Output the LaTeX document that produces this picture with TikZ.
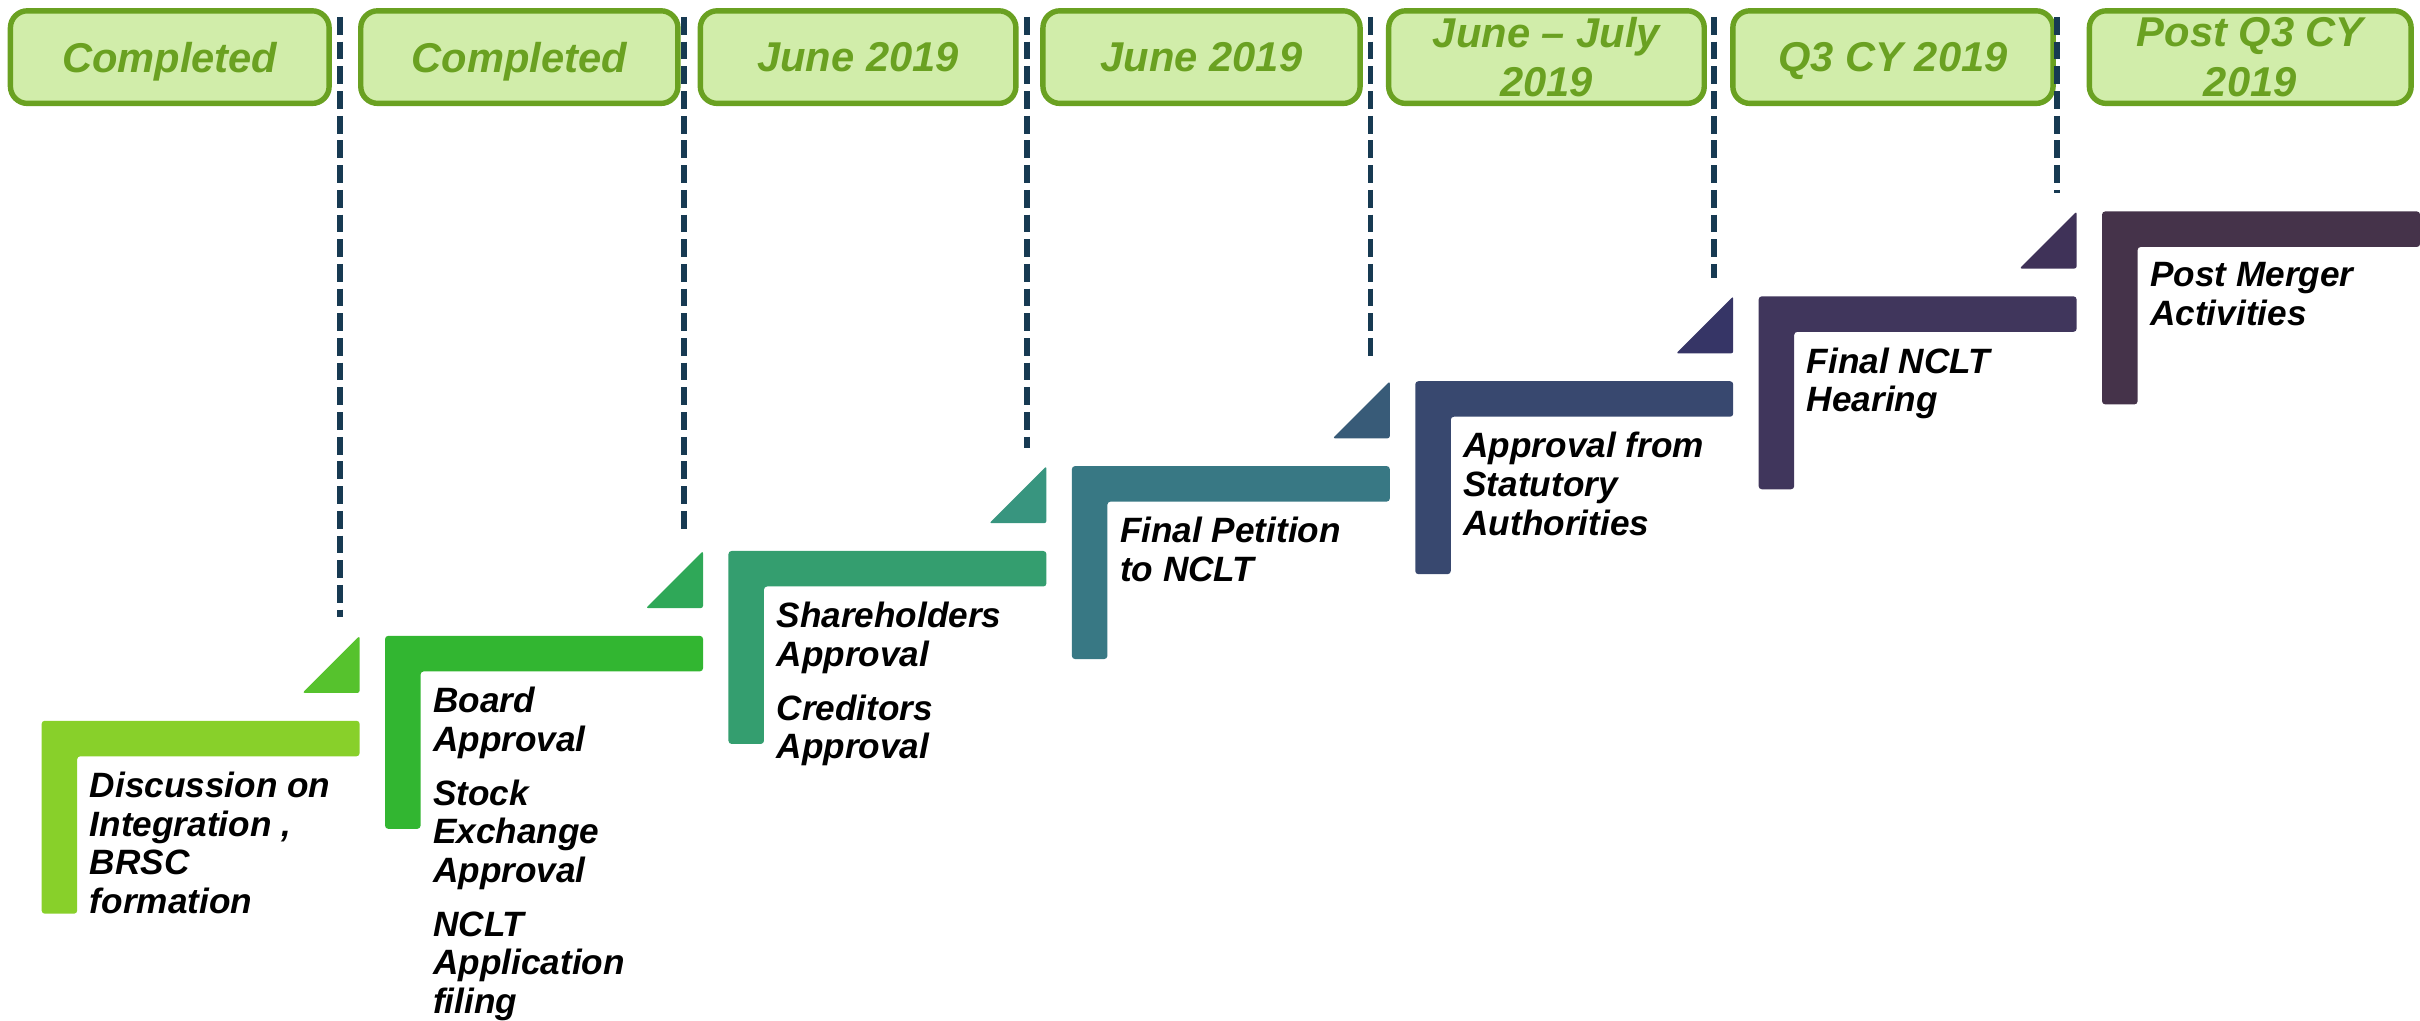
\documentclass[tikz,border=0pt]{standalone}
\usepackage{fontspec}
\setmainfont{Liberation Sans}
\usetikzlibrary{positioning}
\definecolor{datefill}{HTML}{D1EDAA}
\definecolor{dateline}{HTML}{6AA121}
\definecolor{sepcol}{HTML}{173A52}
\definecolor{bar1}{HTML}{88D02A}
\definecolor{bar2}{HTML}{32B631}
\definecolor{bar3}{HTML}{349E6F}
\definecolor{bar4}{HTML}{387884}
\definecolor{bar5}{HTML}{38486F}
\definecolor{bar6}{HTML}{40365C}
\definecolor{bar7}{HTML}{45334A}
\definecolor{tri1}{HTML}{56C22D}
\definecolor{tri2}{HTML}{2FA858}
\definecolor{tri3}{HTML}{38957F}
\definecolor{tri4}{HTML}{385B78}
\definecolor{tri5}{HTML}{363566}
\definecolor{tri6}{HTML}{3F3258}
\tikzset{
    datebox/.style={draw=dateline, fill=datefill, line width=3.5pt, rounded corners=11pt,
        minimum height=60pt, inner sep=0pt, align=center, text=dateline, text depth=0pt,
        font=\fontsize{27}{32}\selectfont\bfseries\itshape},
    steptext/.style={anchor=north west, align=left, inner sep=0pt,
        font=\fontsize{22.8}{25}\selectfont\bfseries\itshape},
    sepline/.style={draw=sepcol, line width=3.8pt, dash pattern=on 11.5pt off 4.5pt}
}

\begin{document}
\begin{tikzpicture}[x=1pt, y=-1pt]
\useasboundingbox (0,0) rectangle (1568,661.5);
\foreach \l/\r/\txt [count=\i] in {5/215/Completed, 232/441/Completed, 452/660/June 2019,
    674/883/June 2019, 898/1106/{June – July\\2019}, 1121/1332/Q3 CY 2019, 1352/1564/{Post Q3 CY\\2019}}
{
    \node[datebox, minimum width={\r-\l-3.5}] (date\i) at ({(\l+\r)/2},37) {\txt};
}
\foreach \i in {1,...,6}
{
    \pgfmathsetmacro\sx{27+222.5*(\i-1)}
    \pgfmathsetmacro\sy{467-55*(\i-1)}
    \path[sepline] (\sx+193.5,11)--(\sx+193.5,\sy-67);
    \path[fill=tri\i, rounded corners=1.5pt] (\sx+206,\sy-55)--(\sx+206,\sy-18)--(\sx+169,\sy-18)--cycle;
}
\foreach \i/\txt in {1/{Discussion on\\Integration ,\\BRSC\\formation},
    2/{Board\\Approval\\[10pt]Stock\\Exchange\\Approval\\[10pt]NCLT\\Application\\filing},
    3/{Shareholders\\Approval\\[10pt]Creditors\\Approval},
    4/{Final Petition\\to NCLT},
    5/{Approval from\\Statutory\\Authorities},
    6/{Final NCLT\\Hearing},
    7/{Post Merger\\Activities}}
{
    \pgfmathsetmacro\sx{27+222.5*(\i-1)}
    \pgfmathsetmacro\sy{467-55*(\i-1)}
    \path[fill=bar\i, rounded corners=2pt] (\sx,\sy)--++(206,0)--++(0,23)--++(-183,0)--++(0,102)--++(-23,0)--cycle;
    \node[steptext] (step\i) at (\sx+31,\sy+33) {\txt};
}
\end{tikzpicture}
\end{document}
